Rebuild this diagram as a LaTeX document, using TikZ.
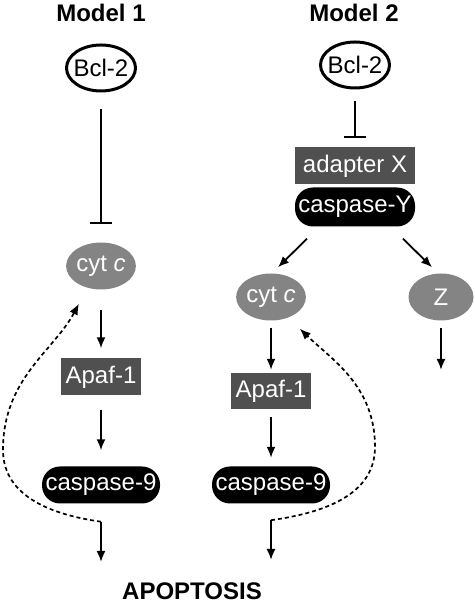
\documentclass[tikz,border=0pt]{standalone}
\usepackage{fontspec}
\setmainfont{Liberation Sans}
\usepackage{tikz}
\usetikzlibrary{arrows,arrows.meta,shapes.geometric,calc}
\definecolor{cytgrey}{RGB}{132,132,132}
\definecolor{boxgrey}{RGB}{80,80,80}
\tikzset{
  txt/.style={font=\fontsize{24}{28}\selectfont},
  title/.style={font=\fontsize{24}{28}\selectfont\bfseries},
  bcl/.style={txt,ellipse,draw,line width=3pt,inner xsep=-3pt,inner ysep=0pt,minimum width=69pt,minimum height=46pt},
  cyt/.style={txt,ellipse,fill=cytgrey,text=white,inner sep=0pt,minimum width=66pt,minimum height=47pt},
  adapt/.style={txt,rectangle,fill=boxgrey,text=white,inner sep=0pt,minimum height=37pt},
  casp/.style={txt,rectangle,rounded corners=18pt,fill=black,text=white,inner sep=0pt,minimum width=118pt,minimum height=37pt},
  arr/.style={-{Latex[length=11pt,width=9pt]},line width=1.8pt},
  inh/.style={-{Bar[width=22pt,line width=2.2pt]},line width=1.8pt},
  fb/.style={-{Latex[length=11pt,width=9pt]},line width=1.7pt,dash pattern=on 4pt off 3pt},
}

\begin{document}
\begin{tikzpicture}[x=1pt,y=1pt]
\useasboundingbox (0,0) rectangle (474,607);

% Model 1
\node[title] (m1) at (101,594) {Model 1};
\node[bcl] (bcl1) at (101,539) {Bcl-2};
\node[cyt] (cytc1) at (101,341) {cyt \textit{c}};
\node[adapt,minimum width=80pt] (apaf1) at (101,230) {Apaf-1};
\node[casp] (casp1) at (101,122) {caspase-9};
\coordinate (apo1) at (101,45);

\draw[inh,shorten <=17pt,shorten >=18.5pt] (bcl1) -- (cytc1);
\draw[arr,shorten <=20pt,shorten >=10pt] (cytc1) -- (apaf1);
\draw[arr,shorten <=14pt,shorten >=16pt] (apaf1) -- (casp1);
\draw[arr,shorten <=18pt] (casp1) -- (apo1);
\coordinate (fb1) at ([yshift=-18pt]casp1.south);
\draw[fb,shorten >=18pt] (fb1) to[out=172,in=-90] (3,157) to[out=90,in=-118] (cytc1.-122);

% Model 2
\node[title] (m2) at (354,594) {Model 2};
\node[bcl] (bcl2) at (355,542) {Bcl-2};
\node[adapt,minimum width=120pt] (adx) at (355,441) {adapter X};
\node[casp,minimum width=120pt,minimum height=39pt] (caspy) at (355,400) {caspase-Y};
\node[cyt] (cytc2) at (271,310) {cyt \textit{c}};
\node[cyt,minimum width=65pt] (zz) at (441,310) {Z};
\node[adapt,minimum width=80pt,minimum height=36pt] (apaf2) at (271,216) {Apaf-1};
\node[casp] (casp2) at (271,122) {caspase-9};
\coordinate (apo2) at (271,47);
\coordinate (zend) at (441,237);

\draw[inh,shorten <=12pt,shorten >=9.5pt] (bcl2) -- (adx);
\draw[arr] ([shift={(-48,-12)}]caspy.south) -- ([shift={(7,6)}]cytc2.north);
\draw[arr] ([shift={(48,-12)}]caspy.south) -- ([shift={(-9,6)}]zz.north);
\draw[arr,shorten <=7pt,shorten >=3pt] (cytc2) -- (apaf2);
\draw[arr,shorten <=7pt] (zz) -- (zend);
\draw[arr,shorten <=8pt,shorten >=8.5pt] (apaf2) -- (casp2);
\draw[arr,shorten <=16.5pt] (casp2) -- (apo2);
\coordinate (fb2) at ([yshift=-16.5pt]casp2.south);
\draw[fb,shorten >=16pt] (fb2) to[out=8,in=-90] (375,160) to[out=90,in=-44] (cytc2.-50);

\node[title] (apo) at (192,16) {APOPTOSIS};
\end{tikzpicture}
\end{document}
